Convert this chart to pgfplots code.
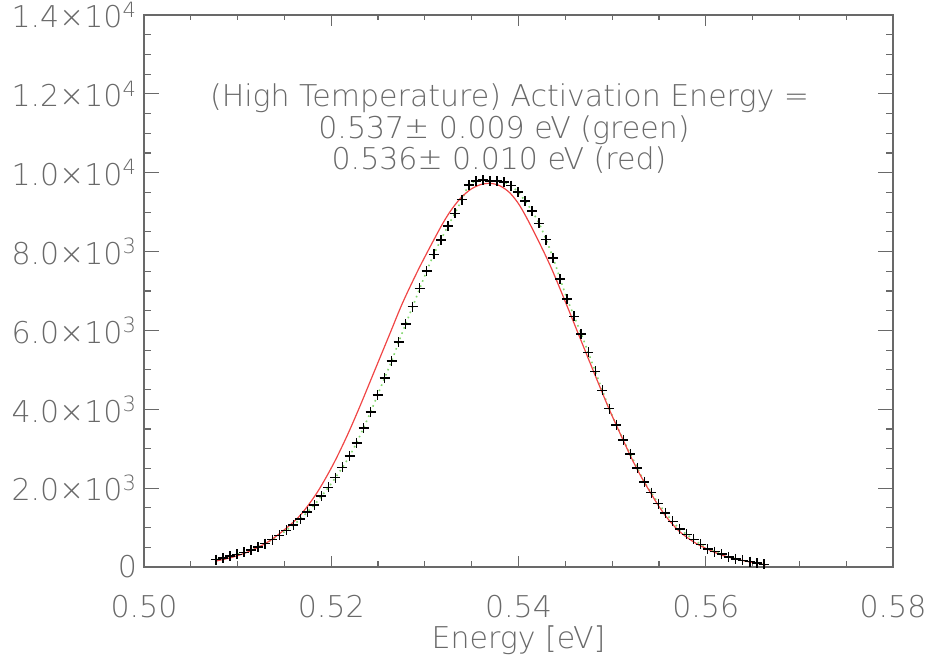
\documentclass[border=0pt]{standalone}
\usepackage{fontspec}
\setmainfont{DejaVu Sans ExtraLight}
\usepackage{pgfplots}
\pgfplotsset{compat=1.18}
\usepackage{pgfplotstable}

\definecolor{idlgray}{RGB}{105,105,105}
\definecolor{fitgreen}{RGB}{130,215,110}
\definecolor{fitred}{RGB}{240,70,70}
\newcommand{\lbl}{\fontsize{15}{18}\selectfont}

% measured distribution of activation energies
\pgfplotstableread{
E counts
0.50770 190
0.50845 232
0.50920 276
0.50995 322
0.51070 372
0.51145 432
0.51220 505
0.51295 595
0.51370 695
0.51445 805
0.51520 930
0.51595 1065
0.51670 1217
0.51745 1395
0.51820 1577
0.51895 1798
0.51970 2019
0.52045 2267
0.52120 2526
0.52195 2810
0.52270 3150
0.52345 3525
0.52420 3928
0.52495 4362
0.52570 4796
0.52645 5224
0.52720 5704
0.52795 6162
0.52870 6606
0.52945 7065
0.53020 7509
0.53095 7927
0.53170 8293
0.53245 8643
0.53320 8967
0.53395 9315
0.53470 9688
0.53545 9789
0.53620 9814
0.53695 9789
0.53770 9789
0.53845 9764
0.53920 9670
0.53995 9510
0.54070 9284
0.54145 9023
0.54220 8716
0.54295 8300
0.54370 7836
0.54445 7304
0.54520 6794
0.54595 6355
0.54670 5911
0.54745 5442
0.54820 4960
0.54895 4481
0.54970 4014
0.55045 3604
0.55120 3221
0.55195 2866
0.55270 2511
0.55345 2156
0.55420 1884
0.55495 1610
0.55570 1375
0.55645 1159
0.55720 966
0.55795 827
0.55870 700
0.55945 576
0.56020 462
0.56095 388
0.56170 325
0.56245 254
0.56320 208
0.56395 165
0.56470 137
0.56545 101
0.56620 68
}\datatable

% red fit curve
\pgfplotstableread{
E fit
0.50769 152
0.50919 231
0.51079 353
0.51239 522
0.51346 669
0.51485 916
0.51666 1304
0.51848 1884
0.52019 2594
0.52168 3322
0.52307 4080
0.52467 5001
0.52627 5922
0.52766 6720
0.52948 7626
0.53162 8590
0.53268 9008
0.53375 9338
0.53482 9566
0.53589 9693
0.53696 9731
0.53802 9667
0.53909 9485
0.54016 9155
0.54155 8546
0.54336 7659
0.54497 6746
0.54657 5807
0.54817 4869
0.54977 3956
0.55137 3119
0.55222 2688
0.55330 2206
0.55490 1572
0.55597 1217
0.55714 913
0.55832 697
0.55938 545
0.56099 368
0.56227 261
0.56419 152
0.56579 81
0.56643 56
}\redtable

\begin{document}
\begin{tikzpicture}
\begin{axis}[
  at={(0,0)}, anchor=south west,
  scale only axis, width=374.5pt, height=276pt,
  xmin=0.50, xmax=0.58, ymin=0, ymax=14000,
  xtick={0.50,0.52,0.54,0.56,0.58},
  xticklabels={0.50,0.52,0.54,0.56,0.58},
  ytick={0,2000,4000,6000,8000,10000,12000,14000},
  yticklabels={0, 2.0×10\textsuperscript{3}, 4.0×10\textsuperscript{3}, 6.0×10\textsuperscript{3}, 8.0×10\textsuperscript{3}, 1.0×10\textsuperscript{4}, 1.2×10\textsuperscript{4}, 1.4×10\textsuperscript{4}},
  minor x tick num=3, minor y tick num=3,
  scaled ticks=false,
  axis line style={idlgray, line width=0.6pt},
  every tick/.style={idlgray, line width=0.6pt},
  major tick length=7.5pt, minor tick length=3.75pt,
  xtick style={/pgfplots/major tick length=5.5pt, /pgfplots/minor tick length=2.75pt},
  tick label style={font=\lbl, text=idlgray},
  xticklabel style={yshift=-10.5pt},
  xlabel={Energy [eV]},
  xlabel style={font=\lbl, text=idlgray, at={(axis description cs:0.5,0)}, anchor=base, yshift=-41pt},
]
\addplot[only marks, mark=+, mark size=2.5pt, black, mark options={line width=0.75pt}] table[x=E, y=counts] {\datatable};
\addplot[fitgreen, dotted, line width=0.8pt, smooth] table[x=E, y=counts] {\datatable};
\addplot[fitred, line width=0.6pt, smooth] table[x=E, y=fit] {\redtable};

\node[font=\lbl, text=idlgray, anchor=base] at (rel axis cs:0.488,0.834) {(High Temperature) Activation Energy =};
\node[font=\lbl, text=idlgray, anchor=base] at (rel axis cs:0.4806,0.776) {0.537± 0.009 eV (green)};
\node[font=\lbl, text=idlgray, anchor=base] at (rel axis cs:0.474,0.721) {0.536± 0.010 eV (red)};
\end{axis}
\pgfresetboundingbox
\path[use as bounding box] (-72pt,-45pt) rectangle (393.5pt,283.5pt);
\end{tikzpicture}
\end{document}
